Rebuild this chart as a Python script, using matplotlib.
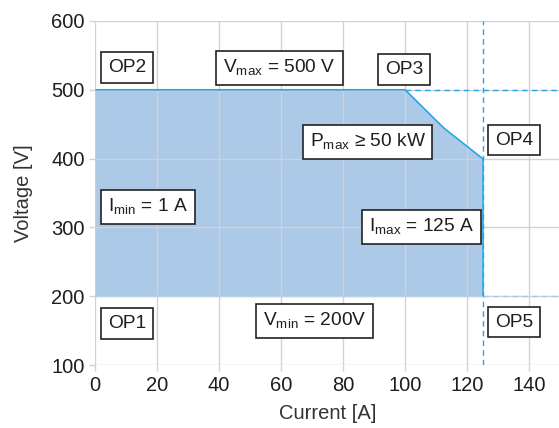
import matplotlib
matplotlib.use("Agg")
import matplotlib.pyplot as plt

# Data
region_I = [0, 0, 100, 112.5, 125, 125]
region_V = [200, 500, 500, 50000 / 112.5, 400, 200]
i_max = 125
v_max = 500
v_min = 200

labels = ["OP2", r"V$_{\mathregular{max}}$ = 500 V", "OP3", r"P$_{\mathregular{max}}$ ≥ 50 kW", "OP4",
          r"I$_{\mathregular{min}}$ = 1 A", r"I$_{\mathregular{max}}$ = 125 A", "OP1",
          r"V$_{\mathregular{min}}$ = 200V", "OP5"]
label_x = [10.3, 59.5, 99.8, 87.9, 135.2, 17.2, 105.2, 10.3, 70.8, 135.2]
label_y = [532, 532, 530, 424, 427, 330, 300.5, 161, 164, 162.5]

x_ticks = [0, 20, 40, 60, 80, 100, 120, 140]
y_ticks = [100, 200, 300, 400, 500, 600]

plt.rcParams['font.family'] = ['Liberation Sans', 'DejaVu Sans']
plt.rcParams['mathtext.fontset'] = 'custom'
plt.rcParams['mathtext.rm'] = 'Liberation Sans'

fig = plt.figure(figsize=(5.59, 4.28), dpi=100)
ax = fig.add_axes([0.170, 0.147, 0.832, 0.804])

line_c = '#29a6e0'
fill_c = '#adc9e8'
txt_c = '#1e1e1e'

ax.fill(region_I, region_V, color=fill_c, lw=0, zorder=1)
ax.grid(True, color='#d2d2d2', lw=1, zorder=2)
ax.set_axisbelow(False)
# boundary lines
ax.plot(region_I[1:5], region_V[1:5], color=line_c, lw=1.2, zorder=3)
ax.plot([i_max, i_max], [400, v_min], color=line_c, lw=1.2, zorder=3)
ax.plot([0, i_max], [v_min, v_min], color='#b4d2ea', lw=1.0, zorder=3)
ax.plot([0, 0], [v_min, v_max], color='#b4d2ea', lw=1.0, zorder=3)
# dashed extensions
ax.plot([i_max, i_max], [100, 600], color=line_c, lw=1.0, ls=(0, (4, 3)), zorder=3)
ax.plot([100, 150], [v_max, v_max], color=line_c, lw=1.0, ls=(0, (4, 3)), zorder=3)
ax.plot([i_max, 150], [v_min, v_min], color='#9fcbea', lw=1.0, ls=(0, (4, 3)), zorder=3)

for t, x, y in zip(labels, label_x, label_y):
    ax.text(x, y, t, ha='center', va='center', fontsize=13.8, color=txt_c, zorder=5,
            bbox=dict(boxstyle='square,pad=0.36', fc='white', ec='#222222', lw=1.2))

ax.set_xlim(0, 150)
ax.set_ylim(100, 600)
ax.set_xticks(x_ticks)
ax.set_yticks(y_ticks)
for s in ax.spines.values():
    s.set_visible(False)
ax.tick_params(axis='both', colors='#d2d2d2', labelcolor=txt_c, labelsize=14.5, length=4, width=1)
ax.tick_params(axis='x', pad=4)
ax.set_xlabel('Current [A]', fontsize=14.5, color='#333333', labelpad=6)
ax.set_ylabel('Voltage [V]', fontsize=14.5, color='#333333', labelpad=13)

fig.savefig('out.png', dpi=100)
